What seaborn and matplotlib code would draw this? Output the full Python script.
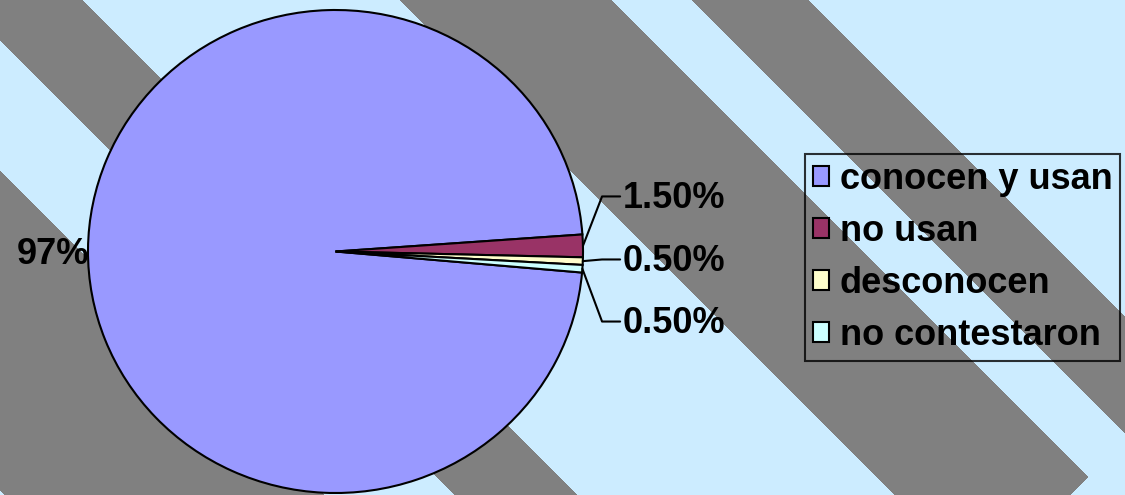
import numpy as np
import matplotlib.pyplot as plt
import seaborn as sns

# datos de la encuesta
categorias = ['conocen y usan', 'no usan', 'desconocen', 'no contestaron']
valores = [97, 1.5, 0.5, 0.5]
etiquetas = ['97%', '1.50%', '0.50%', '0.50%']
colores = ['#9999FF', '#993366', '#FFFFCC', '#CCFFFF']

sns.set_theme(style='white')
plt.rcParams['font.family'] = ['Liberation Sans', 'DejaVu Sans']

W, H = 1125, 495
fig = plt.figure(figsize=(W / 100, H / 100), dpi=100)

# fondo con franjas diagonales (textura)
yy, xx = np.mgrid[0:H, 0:W] + 0.5
u = xx - yy
gris = ((u >= -490) & (u < -170)) | ((u >= -40) & (u < 83)) | ((u >= 692) & (u < 809))
banda = (u >= 400) & (u < 612)
banda &= ~((yy > 477) & (xx + yy > 1565))
gris |= banda
img = np.where(gris[..., None], np.array([128, 128, 128]) / 255, np.array([204, 236, 255]) / 255)
bg = fig.add_axes([0, 0, 1, 1])
bg.imshow(img, aspect='auto', interpolation='nearest', extent=(0, W, H, 0))
bg.axis('off')

# pastel
ax = fig.add_axes([88 / W, 2 / H, 495 / W, 483 / H])
wedges, _ = ax.pie(valores, colors=sns.color_palette(colores), startangle=-5, counterclock=False,
                   wedgeprops=dict(edgecolor='black', linewidth=1.5))
for w in wedges:
    w.set_clip_on(False)
ax.set_xlim(-1, 1)
ax.set_ylim(-1, 1)
ax.set_aspect('auto')
ax.axis('off')

fuente = dict(fontsize=26, fontweight='bold', color='black')

# etiqueta del sector grande
m0 = np.deg2rad((wedges[0].theta1 + wedges[0].theta2) / 2)
ax.text(0.995 * np.cos(m0), np.sin(m0) - 0.06, etiquetas[0], ha='right', va='baseline', **fuente)

# etiquetas de los sectores chicos con lineas guia
y_lab = [0.228, -0.033, -0.29]
for w, txt, yl in zip(wedges[1:], etiquetas[1:], y_lab):
    m = np.deg2rad((w.theta1 + w.theta2) / 2)
    x0, y0 = np.cos(m), np.sin(m)
    ax.plot([x0, 1.077, 1.15], [y0, yl, yl], color='black', lw=1.5, clip_on=False)
    ax.text(1.162, yl - 0.048, txt, ha='left', va='baseline', **fuente)

leg = fig.legend(wedges, categorias, loc='upper left', bbox_to_anchor=(805 / W, 1 - 154 / H),
                 bbox_transform=fig.transFigure, frameon=True, fancybox=False,
                 edgecolor='black', facecolor='none', borderaxespad=0, labelcolor='black',
                 prop=dict(weight='bold', size=26), handlelength=0.44, handleheight=0.44,
                 handletextpad=0.3, labelspacing=0.47, borderpad=0.22)
leg.get_frame().set_linewidth(1.5)

plt.savefig('out.png', dpi=100)
